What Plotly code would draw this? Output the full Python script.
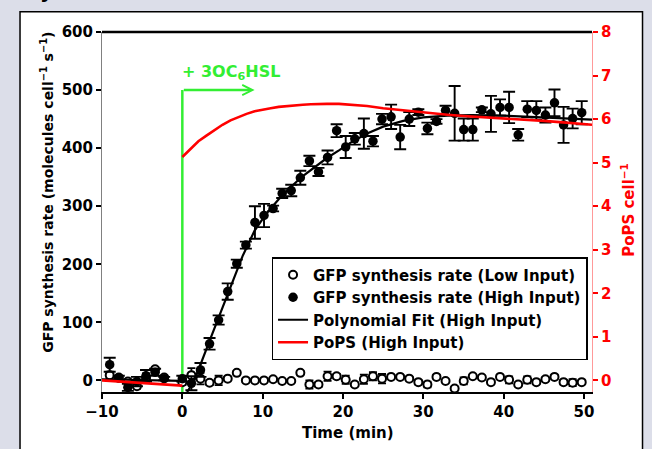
import plotly.graph_objects as go

# ---------------- data ----------------
time_min = [-9.04, -7.91, -6.78, -5.65, -4.52, -3.39, -2.26, 0.0, 1.13, 2.26,
            3.39, 4.52, 5.65, 6.78, 7.91, 9.04, 10.17, 11.3, 12.43, 13.56,
            14.69, 15.82, 16.95, 18.08, 19.21, 20.34, 21.47, 22.6, 23.73, 24.86,
            25.99, 27.12, 28.25, 29.38, 30.51, 31.64, 32.77, 33.9, 35.03, 36.16,
            37.29, 38.42, 39.55, 40.68, 41.81, 42.94, 44.07, 45.2, 46.33, 47.46,
            48.59, 49.72]

gfp_low = [9, 5, -2, -10, 4, 19, 5, -3, 9, 3,
           -4, 0, 3, 13, 0, 0, 0, 2, -1, -1,
           13, -7, -7, 7, 7, 1, -7, 2, 7, 3,
           6, 6, 3, -3, -7, 6, -1, -14, -1, 7,
           5, -3, 6, 1, -7, 1, -3, 2, 6, -3,
           -4, -3]
gfp_low_err = [6, 3, 3, 4, 8, 4, 3, 5, 12, 10,
               4, 8, 3, 3, 2, 2, 2, 2, 2, 2,
               3, 7, 4, 8, 4, 7, 3, 8, 7, 8,
               3, 3, 3, 4, 5, 3, 2, 3, 6, 3,
               3, 3, 3, 6, 3, 6, 3, 3, 3, 4,
               6, 3]

gfp_high = [27, 4, -12, -2, 8, 14, 3, 3, -5, 18,
            63, 104, 153, 201, 233, 272, 284, 296, 322, 327,
            349, 378, 359, 384, 430, 402, 416, 425, 412, 450,
            454, 419, 450, 462, 434, 446, 465, 460, 432, 432,
            466, 459, 470, 470, 423, 467, 465, 457, 478, 440,
            451, 461]
gfp_high_err = [12, 4, 6, 8, 10, 6, 3, 5, 12, 12,
                10, 8, 14, 7, 6, 28, 20, 5, 8, 10,
                12, 9, 7, 12, 11, 19, 10, 26, 9, 9,
                21, 21, 12, 5, 10, 4, 8, 47, 19, 19,
                4, 31, 14, 27, 10, 14, 16, 13, 23, 31,
                17, 20]

fit_time = [-10, -0.05, None, 0.6, 1.5, 3.5, 5.5, 7.5, 9, 10.5, 12, 13.5, 15,
            16.5, 18, 19.5, 21, 23, 25, 27.5, 30, 33, 36, 40, 45, 51]
fit_gfp = [2, -1, None, -20, 0, 72, 144, 214, 258, 288, 312, 333, 352,
           368, 383, 396, 410, 425, 437, 447, 453, 456, 457, 456, 453, 449]

pops_time = [-10, 0, None, 0, 1, 2, 3, 4, 5, 6, 7, 8, 9, 10, 11, 12, 13, 14, 15,
             16, 17, 18, 19.5, 21, 23, 25, 27, 29, 31, 33, 35, 37, 39, 41, 43,
             45, 47, 49, 51]
pops = [0.0, -0.12, None, 5.13, 5.32, 5.49, 5.62, 5.75, 5.87, 5.97, 6.05, 6.12,
        6.18, 6.22, 6.25, 6.28, 6.30, 6.32, 6.33, 6.34, 6.35, 6.35, 6.35, 6.33,
        6.30, 6.25, 6.21, 6.17, 6.13, 6.10, 6.07, 6.05, 6.02, 6.00, 5.98, 5.96,
        5.93, 5.90, 5.87]

x_ticks = [-10, 0, 10, 20, 30, 40, 50]
y_ticks = [0, 100, 200, 300, 400, 500, 600]
y2_ticks = [0, 1, 2, 3, 4, 5, 6, 7, 8]

induction_time = 0
arrow_end_time = 9
arrow_level = 500

# ---------------- style ----------------
FONT = "DejaVu Sans"
GREEN = "#33ee33"
RED = "#ff0000"
OUTER = "#dcdee9"

fig = go.Figure()

fig.add_trace(go.Scatter(
    x=time_min, y=gfp_low, mode="markers", name="GFP synthesis rate (Low Input)",
    legendgroup="a",
    marker=dict(symbol="circle", size=8, color="white", line=dict(color="black", width=2)),
    error_y=dict(type="data", array=gfp_low_err, color="black", thickness=1.8, width=4),
))
fig.add_trace(go.Scatter(
    x=time_min, y=gfp_high, mode="markers", name="GFP synthesis rate (High Input)",
    legendgroup="b",
    marker=dict(symbol="circle", size=9.5, color="black"),
    error_y=dict(type="data", array=gfp_high_err, color="black", thickness=1.9, width=6),
))
fig.add_trace(go.Scatter(
    x=fit_time, y=fit_gfp, mode="lines", name="Polynomial Fit (High Input)",
    legendgroup="c", line=dict(color="black", width=2.2), connectgaps=False,
))
fig.add_trace(go.Scatter(
    x=pops_time, y=pops, mode="lines", name="PoPS (High Input)", yaxis="y2",
    legendgroup="d", line=dict(color=RED, width=2.6), connectgaps=False,
))

shapes = [
    # white panel
    dict(type="rect", xref="paper", yref="paper", x0=-0.1673, x1=1.1031, y0=-0.25, y1=1.0562,
         fillcolor="white", line=dict(color="black", width=1.5), layer="below"),
    # green induction line
    dict(type="line", xref="x", yref="y", x0=induction_time, x1=induction_time, y0=-20, y1=arrow_level,
         line=dict(color=GREEN, width=2.5), layer="below"),
    # top frame line
    dict(type="line", xref="paper", yref="paper", x0=0, x1=1, y0=1, y1=1,
         line=dict(color="black", width=2.5), layer="above"),
]

annotations = [
    dict(x=arrow_end_time, y=arrow_level, ax=induction_time, ay=arrow_level, xref="x", yref="y",
         axref="x", ayref="y", text="", showarrow=True, arrowhead=5, arrowsize=0.8,
         arrowwidth=2.5, arrowcolor=GREEN),
    dict(x=-0.3, y=530, xref="x", yref="y", xanchor="left", yanchor="middle",
         text="<b>+ 3OC<sub>6</sub>HSL</b>", showarrow=False,
         font=dict(family=FONT, size=16, color=GREEN)),
    dict(x=-0.112, y=0.5535, xref="paper", yref="paper", textangle=-90,
         xanchor="center", yanchor="middle",
         text="<b>GFP synthesis rate (molecules cell<sup>−1</sup> s<sup>−1</sup>)</b>",
         showarrow=False, font=dict(family=FONT, size=14, color="black")),
    dict(x=1.0735, y=0.506, xref="paper", yref="paper", textangle=-90,
         xanchor="center", yanchor="middle",
         text="<b>PoPS cell<sup>−1</sup></b>", showarrow=False,
         font=dict(family=FONT, size=15, color=RED)),
    dict(x=0.502, y=-0.114, xref="paper", yref="paper", xanchor="center", yanchor="middle",
         text="<b>Time (min)</b>", showarrow=False,
         font=dict(family=FONT, size=15, color="black")),
    dict(x=-0.114, y=1.0737, xref="paper", yref="paper", xanchor="center", yanchor="bottom",
         text="<b>y</b>", showarrow=False, font=dict(family=FONT, size=20, color="black")),
]

fig.update_layout(
    width=652, height=449,
    margin=dict(l=102, r=60, t=32, b=57),
    paper_bgcolor=OUTER, plot_bgcolor="white",
    shapes=shapes, annotations=annotations,
    showlegend=True,
    legend=dict(x=0.346, y=0.375, xanchor="left", yanchor="top",
                bgcolor="white", bordercolor="black", borderwidth=1.5,
                font=dict(family=FONT, size=15, color="black", weight="bold"),
                traceorder="grouped", tracegroupgap=0, itemwidth=30),
    xaxis=dict(range=[-10, 51], tickvals=x_ticks, ticks="outside", ticklen=5, tickwidth=1.5,
               tickcolor="black", showline=True, linecolor="black", linewidth=1.5,
               showgrid=False, zeroline=False,
               tickfont=dict(family=FONT, size=15, color="black", weight="bold")),
    yaxis=dict(range=[-20, 600], tickvals=y_ticks, ticks="outside", ticklen=5, tickwidth=1.5,
               tickcolor="black", showline=True, linecolor="#808080", linewidth=1,
               showgrid=False, zeroline=False,
               tickfont=dict(family=FONT, size=15, color="black", weight="bold")),
    yaxis2=dict(range=[-20 / 75, 8], tickvals=y2_ticks, overlaying="y", side="right",
                ticks="outside", ticklen=5, tickwidth=1.5, tickcolor=RED,
                showline=True, linecolor="#ff9999", linewidth=1,
                showgrid=False, zeroline=False,
                tickfont=dict(family=FONT, size=15, color=RED, weight="bold")),
)

fig.write_html(
    "out.html",
    config={"displayModeBar": False},
    post_script="document.body.style.margin='0';document.body.style.background='%s';" % OUTER,
)
